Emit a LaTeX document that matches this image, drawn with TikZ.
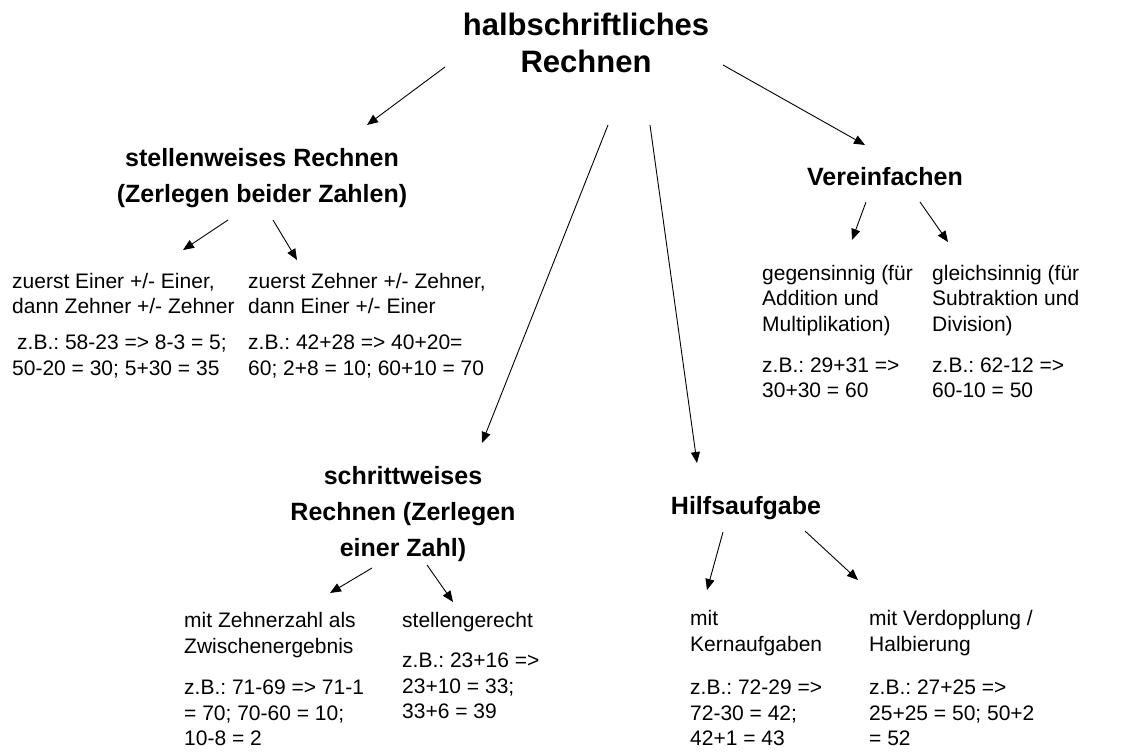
\documentclass[tikz,border=0pt]{standalone}
\usepackage{fontspec}
\setmainfont{Liberation Sans}
\usetikzlibrary{arrows.meta}
\frenchspacing

\begin{document}
\begin{tikzpicture}[x=1pt, y=-1pt,
    titel/.style={font=\bfseries\fontsize{31}{37}\selectfont, align=center, inner sep=0pt},
    kopf/.style={font=\bfseries\fontsize{25}{36}\selectfont, align=center, inner sep=0pt},
    blatt/.style={font=\fontsize{21}{25.5}\selectfont, align=left, anchor=west, inner sep=0pt},
    pfeil/.style={-{Triangle[length=11pt,width=9pt]}, line width=0.9pt}]

    \useasboundingbox (0,0) rectangle (1128,752);

    % Oberbegriff
    \node[titel] (titel) at (586,42.5) {halbschriftliches\\Rechnen};

    % die vier Strategien
    \node[kopf] (stell) at (262,178.5) {stellenweises Rechnen\\(Zerlegen beider Zahlen)};
    \node[kopf] (vere) at (885,177) {Vereinfachen};
    \node[kopf] (schritt) at (403,514) {schrittweises\\Rechnen (Zerlegen\\einer Zahl)};
    \node[kopf] (hilfs) at (746,508) {Hilfsaufgabe};

    % stellenweise
    \node[blatt] (st1) at (12,325.5) {zuerst Einer +/- Einer,\\dann Zehner +/- Zehner\\[10.5pt]
        \hspace{5pt}z.B.: 58-23 => 8-3 = 5;\\50-20 = 30; 5+30 = 35};
    \node[blatt] (st2) at (248,325.5) {zuerst Zehner +/- Zehner,\\dann Einer +/- Einer\\[10.5pt]
        z.B.: 42+28 => 40+20=\\60; 2+8 = 10; 60+10 = 70};

    % vereinfachen
    \node[blatt] (ve1) at (762,331.5) {gegensinnig (für\\Addition und\\Multiplikation)\\[15.5pt]
        z.B.: 29+31 =>\\30+30 = 60};
    \node[blatt] (ve2) at (932,331.5) {gleichsinnig (für\\Subtraktion und\\Division)\\[15.5pt]
        z.B.: 62-12 =>\\60-10 = 50};

    % schrittweise
    \node[blatt] (sc1) at (184,679) {mit Zehnerzahl als\\Zwischenergebnis\\[16pt]
        z.B.: 71-69 => 71-1\\= 70; 70-60 = 10;\\10-8 = 2};
    \node[blatt] (sc2) at (402,665.5) {stellengerecht\\[14.5pt]
        z.B.: 23+16 =>\\23+10 = 33;\\33+6 = 39};

    % Hilfsaufgabe
    \node[blatt] (hi1) at (690,678) {mit\\Kernaufgaben\\[18pt]
        z.B.: 72-29 =>\\72-30 = 42;\\42+1 = 43};
    \node[blatt] (hi2) at (869,678) {mit Verdopplung /\\Halbierung\\[18pt]
        z.B.: 27+25 =>\\25+25 = 50; 50+2\\= 52};

    % Pfeile vom Oberbegriff
    \draw[pfeil] ([shift={(-141,24.5)}]titel.center) -- ([shift={(105,-53.5)}]stell.center);
    \draw[pfeil] ([shift={(137,22.5)}]titel.center) -- ([shift={(-20,-32)}]vere.center);
    \draw[pfeil] ([shift={(22,82.5)}]titel.center) -- ([shift={(79,-71)}]schritt.center);
    \draw[pfeil] ([shift={(64,82.5)}]titel.center) -- ([shift={(-49,-45)}]hilfs.center);

    % Pfeile zu den Beispielen
    \draw[pfeil] ([shift={(-34,41.5)}]stell.center) -- ([shift={(171,-75.5)}]st1.west);
    \draw[pfeil] ([shift={(11,41.5)}]stell.center) -- ([shift={(49,-65.5)}]st2.west);
    \draw[pfeil] ([shift={(-19,25)}]vere.center) -- ([shift={(90,-91.5)}]ve1.west);
    \draw[pfeil] ([shift={(35,25)}]vere.center) -- ([shift={(16,-89.5)}]ve2.west);
    \draw[pfeil] ([shift={(-31,54)}]schritt.center) -- ([shift={(146,-86)}]sc1.west);
    \draw[pfeil] ([shift={(24,51)}]schritt.center) -- ([shift={(51,-63.5)}]sc2.west);
    \draw[pfeil] ([shift={(-23,24)}]hilfs.center) -- ([shift={(17,-88)}]hi1.west);
    \draw[pfeil] ([shift={(59,23)}]hilfs.center) -- ([shift={(-11,-98)}]hi2.west);

\end{tikzpicture}
\end{document}
